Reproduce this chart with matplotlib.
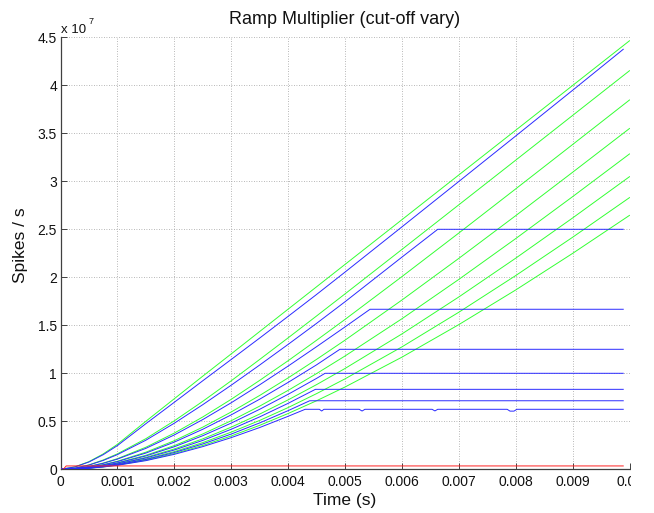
import matplotlib
matplotlib.use("Agg")
import matplotlib.pyplot as plt
from matplotlib.ticker import FuncFormatter, FixedLocator
from matplotlib.patches import Rectangle

# ---------------- data (spike rates in units of 1e7 spikes/s) ----------------
t_grid = [0, 0.00025, 0.0005, 0.00075, 0.001, 0.0015, 0.002, 0.0025, 0.003, 0.0035, 0.004,
          0.0045, 0.005, 0.006, 0.007, 0.008, 0.009, 0.01]

green_1 = [0, 0.025, 0.080, 0.160, 0.260, 0.500, 0.735, 0.970, 1.202, 1.435, 1.668, 1.901, 2.134, 2.600, 3.066, 3.532, 3.998, 4.464]
green_2 = [0, 0.012, 0.046, 0.097, 0.161, 0.319, 0.505, 0.708, 0.922, 1.144, 1.369, 1.597, 1.827, 2.290, 2.755, 3.220, 3.686, 4.152]
green_3 = [0, 0.008, 0.030, 0.065, 0.111, 0.230, 0.377, 0.545, 0.729, 0.926, 1.131, 1.344, 1.561, 2.007, 2.461, 2.921, 3.383, 3.847]
green_4 = [0, 0.006, 0.023, 0.049, 0.084, 0.178, 0.298, 0.439, 0.597, 0.769, 0.952, 1.145, 1.345, 1.763, 2.197, 2.642, 3.094, 3.550]
green_5 = [0, 0.005, 0.018, 0.040, 0.068, 0.146, 0.247, 0.368, 0.506, 0.658, 0.822, 0.997, 1.180, 1.568, 1.978, 2.403, 2.840, 3.285]
green_6 = [0, 0.004, 0.015, 0.033, 0.058, 0.124, 0.212, 0.317, 0.439, 0.575, 0.723, 0.882, 1.050, 1.410, 1.795, 2.199, 2.618, 3.048]
green_7 = [0, 0.003, 0.013, 0.028, 0.050, 0.107, 0.184, 0.278, 0.387, 0.509, 0.643, 0.788, 0.942, 1.275, 1.636, 2.018, 2.417, 2.830]
green_8 = [0, 0.003, 0.011, 0.025, 0.044, 0.095, 0.164, 0.248, 0.347, 0.458, 0.581, 0.714, 0.857, 1.168, 1.507, 1.868, 2.249, 2.645]
greens = [green_1, green_2, green_3, green_4, green_5, green_6, green_7, green_8]

# blue (simulated) curves: times and values
blue_1_t = t_grid[:-1] + [0.00989]
blue_1_v = [0, 0.024, 0.076, 0.152, 0.247, 0.475, 0.698, 0.922, 1.144, 1.367, 1.593, 1.821, 2.054, 2.525, 2.998, 3.472, 3.948, 4.375]

blue_2_t = t_grid[:14] + [0.00663, 0.00989]
blue_2_v = [0, 0.011, 0.044, 0.092, 0.153, 0.303, 0.480, 0.673, 0.876, 1.086, 1.301, 1.520, 1.745, 2.210, 2.500, 2.500]

blue_3_t = t_grid[:13] + [0.00544, 0.00989]
blue_3_v = [0, 0.008, 0.029, 0.062, 0.106, 0.218, 0.358, 0.518, 0.693, 0.880, 1.075, 1.277, 1.483, 1.667, 1.667]

blue_4_t = t_grid[:12] + [0.00491, 0.00989]
blue_4_v = [0, 0.006, 0.022, 0.046, 0.080, 0.169, 0.283, 0.417, 0.567, 0.730, 0.905, 1.088, 1.250, 1.250]

blue_5_t = t_grid[:12] + [0.00465, 0.00989]
blue_5_v = [0, 0.004, 0.017, 0.038, 0.065, 0.139, 0.235, 0.350, 0.481, 0.625, 0.781, 0.947, 1.000, 1.000]

blue_6_t = t_grid[:11] + [0.00448, 0.00989]
blue_6_v = [0, 0.004, 0.014, 0.031, 0.055, 0.118, 0.201, 0.301, 0.417, 0.546, 0.687, 0.833, 0.833]

blue_7_t = t_grid[:11] + [0.00438, 0.00989]
blue_7_v = [0, 0.003, 0.012, 0.027, 0.047, 0.102, 0.175, 0.264, 0.367, 0.483, 0.611, 0.714, 0.714]

blue_8_t = t_grid[:11] + [0.0043, 0.00455, 0.00459, 0.00463, 0.00525, 0.0053, 0.00535,
                          0.00653, 0.00658, 0.00663, 0.00785, 0.0079, 0.00797, 0.00802, 0.00989]
blue_8_v = [0, 0.003, 0.011, 0.024, 0.042, 0.090, 0.156, 0.236, 0.330, 0.435, 0.552, 0.625,
            0.625, 0.607, 0.625, 0.625, 0.607, 0.625, 0.625, 0.608, 0.625,
            0.625, 0.606, 0.606, 0.625, 0.625]

blues = [(blue_1_t, blue_1_v), (blue_2_t, blue_2_v), (blue_3_t, blue_3_v), (blue_4_t, blue_4_v),
         (blue_5_t, blue_5_v), (blue_6_t, blue_6_v), (blue_7_t, blue_7_v), (blue_8_t, blue_8_v)]

red_t = [0, 0.00005, 0.0001, 0.00989]
red_v = [0, 0.0, 0.035, 0.035]

x_ticks = [0, 0.001, 0.002, 0.003, 0.004, 0.005, 0.006, 0.007, 0.008, 0.009, 0.01]
y_ticks = [0, 0.5, 1, 1.5, 2, 2.5, 3, 3.5, 4, 4.5]

# ---------------- figure ----------------
W, H = 654, 513
fig = plt.figure(figsize=(W / 100, H / 100), dpi=100)
left, right, top, bottom = 60.5, 629.5, 37.3, 469.3
ax = fig.add_axes([left / W, 1 - bottom / H, (right - left) / W, (bottom - top) / H])

for g in greens:
    ax.plot(t_grid, g, color='#33ff33', lw=0.7, zorder=2)
for bt, bv in blues:
    ax.plot(bt, bv, color='#2a2aff', lw=0.7, zorder=3)
ax.plot(red_t, red_v, color='#ff2020', lw=0.7, zorder=4)

ax.set_xlim(0, 0.01)
ax.set_ylim(0, 4.5)
ax.xaxis.set_major_locator(FixedLocator(x_ticks))
ax.yaxis.set_major_locator(FixedLocator(y_ticks))
ax.xaxis.set_major_formatter(FuncFormatter(lambda v, p: '%g' % v))
ax.yaxis.set_major_formatter(FuncFormatter(lambda v, p: '%g' % v))

font = 'Liberation Sans'
for sp in ['top', 'right']:
    ax.spines[sp].set_visible(False)
for sp in ['left', 'bottom']:
    ax.spines[sp].set_color('#404040')
    ax.spines[sp].set_linewidth(0.9)

ax.tick_params(direction='in', length=4, width=0.7, color='#404040',
               labelsize=10, labelcolor='#111111')
ax.tick_params(axis='x', pad=4)
ax.tick_params(axis='y', pad=2.5)
for lab in ax.get_xticklabels() + ax.get_yticklabels():
    lab.set_fontfamily(font)

ax.grid(True, color='#a0a0a0', linestyle=(0, (1, 2)), linewidth=0.6)
ax.set_axisbelow(True)

fig.text(345 / W, 1 - 24 / H, 'Ramp Multiplier (cut-off vary)', ha='center', va='baseline',
         fontsize=13, family=font, color='#111111')
fig.text(345 / W, 1 - 505 / H, 'Time (s)', ha='center', va='baseline',
         fontsize=12.5, family=font, color='#111111')
fig.text(28 / W, 1 - 245 / H, 'Spikes / s', ha='right', va='center', rotation=90,
         fontsize=12.5, family=font, color='#111111')
fig.text(61 / W, 1 - 33 / H, 'x 10', ha='left', va='baseline', fontsize=9.5, family=font, color='#111111')
fig.text(88.5 / W, 1 - 24 / H, '7', ha='left', va='baseline', fontsize=6.5, family=font, color='#111111')

# image is cropped just right of the axes in the reference
fig.patches.append(Rectangle((631 / W, 0), 1, 1, transform=fig.transFigure,
                             facecolor='white', edgecolor='none', zorder=100))

fig.savefig('out.png', dpi=100)
